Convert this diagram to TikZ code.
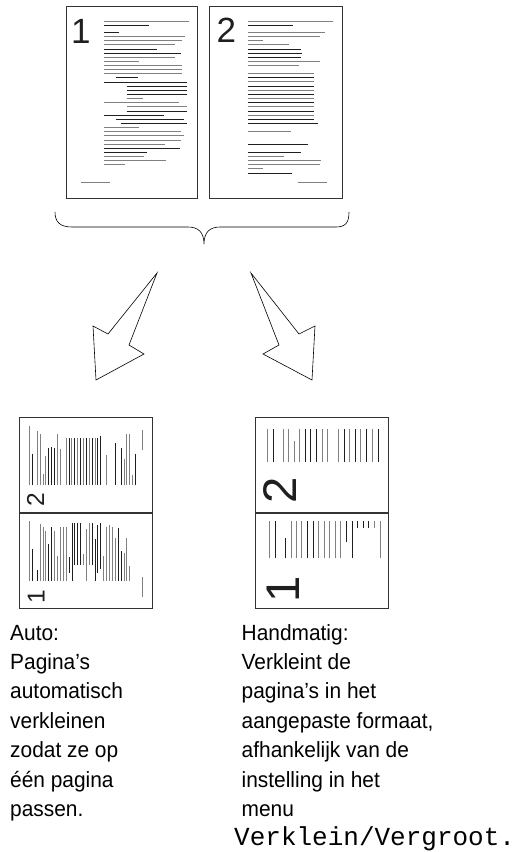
\documentclass[tikz,border=0pt]{standalone}
\usepackage{fontspec}
\setmainfont{Liberation Sans}
\newfontfamily\captionfont{Liberation Sans}[FakeStretch=0.95]
\newfontfamily\monofont{Liberation Mono}
\definecolor{lg}{gray}{0.5}
\definecolor{dk}{gray}{0.12}
\definecolor{bd}{gray}{0.2}
\tikzset{
  gl/.style={draw=lg, line width=0.9pt},
  dl/.style={draw=dk, line width=0.9pt},
  pagebox/.style={draw=bd, line width=1.2pt, fill=none},
  digit/.style={inner sep=0pt, font=\fontsize{35}{35}\selectfont, text=dk},
  body/.style={inner sep=0pt, anchor=base west, font=\captionfont\fontsize{22}{26}\selectfont},
  monotext/.style={inner sep=0pt, anchor=base west, font=\monofont\fontsize{26}{30}\selectfont},
  bigarrow/.style={draw=black, line width=0.6pt, fill=white, line join=miter},
  brace/.style={draw=black, line width=0.6pt}
}
\newcommand{\pageonecontent}{%
  \foreach \a/\b/\y/\c in {104/189.3/21/gl, 104/149.3/25/dl, 104/119.3/32.7/dl, 104/185/36.7/gl,
    104/181.7/40.7/gl, 104/175/44.7/gl, 104/157.3/49/dl, 104/181/53/dl, 104/175/57/gl,
    104/139.3/61.3/gl, 104/181.7/65.3/gl, 104/181.7/69.3/gl, 104/181.7/73.7/gl, 116/137.7/77.7/dl,
    104/187.3/82/dl, 126.7/187.3/86/dl, 126.7/187.3/90/dl, 126.7/187.3/94.3/dl, 126.7/142.7/98.7/gl,
    104/179/102.7/gl, 126.7/187.3/106.7/gl, 126.7/187.3/111/dl, 104/164/115/dl, 116/184.3/119/dl,
    120.7/187.3/123.3/dl, 104/139.3/127.3/gl, 104/181/131.7/gl, 104/184.3/135.7/gl, 104/180.7/140/gl,
    104/165/144/gl, 104/180/148/dl, 104/147.3/152.3/dl, 104/144/156.3/gl, 104/166/160.3/gl,
    104/125/164.7/gl, 81/110/182.7/gl}
    {\draw[\c] (\a,\y) -- (\b,\y);}
  \node[digit, anchor=base west, transform shape] (d1) at (71,43) {1};
}
\newcommand{\pagetwocontent}{%
  \foreach \a/\b/\y/\c in {247.7/332.7/21/gl, 247.7/292.7/25/dl, 247.7/325/32.7/gl, 247.7/320/36.7/gl,
    247.7/263.3/40.7/gl, 247.7/289/44.7/gl, 247.7/301/49/dl, 247.7/302.3/53/dl, 247.7/301/57/dl,
    247.7/320/61.3/gl, 247.7/299.3/65.3/gl,
    247.7/314.3/73.7/gl, 247.7/314.3/77.7/dl, 247.7/314.3/81.7/gl, 247.7/314.3/86/dl,
    247.7/314.3/90/gl, 247.7/314.3/94.3/dl, 247.7/314.3/98.3/gl, 247.7/314.3/102.7/dl,
    247.7/314.3/106.7/gl, 247.7/314.3/111/dl, 247.7/314.3/115/gl, 247.7/314.3/119/dl,
    247.7/318.3/123.3/dl, 247.7/291/131.7/gl, 247.7/308.3/144/dl, 247.7/301/152.3/dl,
    247.7/284.3/156.3/gl, 247.7/321/160.3/gl, 247.7/320/164.7/gl, 247.7/262.7/168.7/gl,
    247.7/292.3/173/dl, 297.7/326.7/182.7/gl}
    {\draw[\c] (\a,\y) -- (\b,\y);}
  \node[digit, anchor=base west, transform shape] (d2) at (216.5,42) {2};
}
\begin{document}
\begin{tikzpicture}[x=1pt, y=-1pt]
\useasboundingbox (0,0) rectangle (519,852);

% original pages
\node[pagebox, anchor=north west, minimum width=131pt, minimum height=192pt, inner sep=0pt] (p1) at (66,6) {};
\node[pagebox, anchor=north west, minimum width=133pt, minimum height=192pt, inner sep=0pt] (p2) at (209,6) {};
\pageonecontent
\pagetwocontent

% brace
\draw[brace] (55,212) .. controls (55,222) and (60,227) .. (72,227) -- (188,227)
  .. controls (198,227) and (204,232) .. (204,244)
  .. controls (204,232) and (210,227) .. (220,227) -- (336,227)
  .. controls (346,227) and (349,222) .. (349,212);

% arrows
\draw[bigarrow] (157,273) -- (108,334) -- (93,326) -- (96,380) -- (144,354) -- (129,345) -- cycle;
\draw[bigarrow] (251,273) -- (299,334) -- (315,326) -- (312,380) -- (263,354) -- (279,345) -- cycle;

% Auto result page
\node[pagebox, anchor=north west, minimum width=133pt, minimum height=191pt, inner sep=0pt] (ra) at (19,417) {};
\draw[draw=bd, line width=1.2pt] (ra.west |- 0,513) -- (ra.east |- 0,513);
\begin{scope}
  \clip (20,418) rectangle (151,512);
  \begin{scope}[shift={(14.6pt,-658.4pt)}, rotate=90, scale=0.7]
    \pagetwocontent
  \end{scope}
\end{scope}
\begin{scope}
  \clip (20,514) rectangle (151,607);
  \begin{scope}[shift={(14.6pt,-653.8pt)}, rotate=90, scale=0.7]
    \pageonecontent
  \end{scope}
\end{scope}

% Handmatig result page
\node[pagebox, anchor=north west, minimum width=133pt, minimum height=191pt, inner sep=0pt] (rh) at (255,417) {};
\draw[draw=bd, line width=1.2pt] (rh.west |- 0,513) -- (rh.east |- 0,513);
\begin{scope}
  \clip (257,429.3) rectangle (382,511.5);
  \begin{scope}[shift={(239.35pt,-796.1pt)}, rotate=90, scale=1.35]
    \pagetwocontent
  \end{scope}
\end{scope}
\begin{scope}
  \clip (257,521.7) rectangle (382,606.5);
  \begin{scope}[shift={(241.45pt,-698.7pt)}, rotate=90, scale=1.35]
    \pageonecontent
  \end{scope}
\end{scope}

% captions
\node[body] (a1) at (10,640) {Auto:};
\node[body] (a2) at (10,669.4) {Pagina’s};
\node[body] (a3) at (10,698.8) {automatisch};
\node[body] (a4) at (10,728.2) {verkleinen};
\node[body] (a5) at (10,757.6) {zodat ze op};
\node[body] (a6) at (10,787) {één pagina};
\node[body] (a7) at (10,816.4) {passen.};

\node[body] (h1) at (241.5,640) {Handmatig:};
\node[body] (h2) at (241.5,669.4) {Verkleint de};
\node[body] (h3) at (241.5,698.8) {pagina’s in het};
\node[body] (h4) at (241.5,728.2) {aangepaste formaat,};
\node[body] (h5) at (241.5,757.6) {afhankelijk van de};
\node[body] (h6) at (241.5,787) {instelling in het};
\node[body] (h7) at (241.5,816.4) {menu};
\node[monotext] (h8) at (234,845.8) {Verklein/Vergroot.};
\end{tikzpicture}
\end{document}
